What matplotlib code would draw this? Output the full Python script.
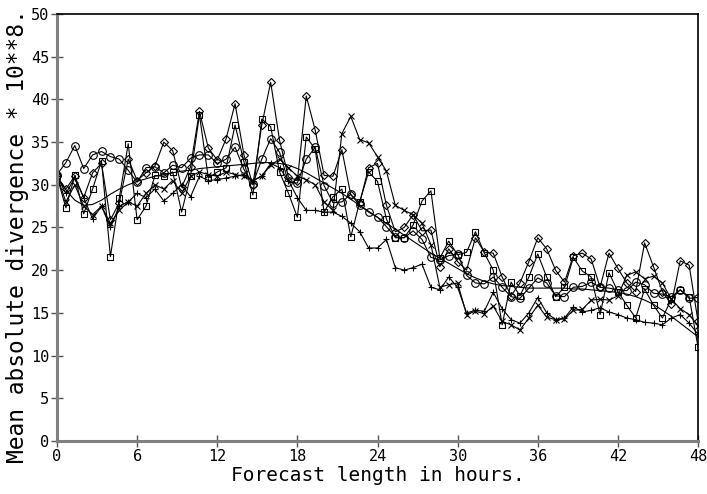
import numpy as np
import matplotlib
matplotlib.use("Agg")
import matplotlib.pyplot as plt

# forecast hours, one value every 40 minutes
hours = np.arange(73) * 2.0 / 3.0

circles = [31.2, 32.6, 34.6, 31.9, 33.5, 33.9, 33.3, 33.0, 31.7,
           30.3, 32.0, 32.1, 31.4, 32.3, 32.0, 33.1, 33.5, 33.5,
           32.5, 33.0, 34.4, 31.8, 30.1, 33.0, 35.4, 33.8, 30.3,
           30.2, 33.0, 34.4, 29.9, 27.9, 28.0, 28.9, 27.6, 26.8,
           26.2, 25.1, 23.9, 23.8, 24.6, 23.6, 21.5, 21.2, 21.7,
           21.9, 19.4, 18.5, 18.4, 19.2, 18.0, 16.9, 16.7, 17.9,
           19.1, 18.5, 17.0, 16.9, 18.0, 18.1, 18.6, 18.0, 17.9,
           17.7, 17.6, 18.6, 18.3, 17.3, 17.2, 16.9, 17.7, 16.7,
           16.8]

squares = [31.0, 27.3, 31.1, 26.6, 29.5, 32.8, 21.6, 28.5, 34.8,
           25.9, 27.5, 31.1, 31.0, 31.5, 26.8, 31.0, 38.2, 30.8,
           31.5, 32.0, 37.0, 32.7, 28.8, 37.7, 36.8, 31.5, 29.0,
           26.2, 35.6, 34.2, 26.8, 28.6, 29.5, 23.9, 28.0, 31.5,
           30.4, 26.0, 23.8, 23.8, 25.3, 28.1, 29.3, 21.4, 23.4,
           21.8, 22.1, 24.5, 22.0, 20.0, 13.6, 18.6, 17.0, 19.2,
           21.9, 19.2, 16.9, 18.0, 21.5, 19.9, 19.2, 14.8, 19.7,
           17.5, 15.9, 14.4, 17.8, 15.9, 14.4, 16.6, 17.7, 16.9,
           11.0]

diamonds = [31.0, 29.5, 31.0, 28.5, 31.4, 32.5, 25.9, 27.9, 33.0,
            30.5, 31.4, 32.2, 35.0, 34.0, 29.7, 32.1, 38.6, 34.3,
            32.9, 35.4, 39.5, 33.5, 30.0, 37.0, 42.0, 35.2, 30.9,
            30.5, 40.4, 36.4, 31.1, 31.0, 34.1, 28.8, 27.9, 32.0,
            32.5, 27.6, 24.5, 25.0, 26.5, 24.6, 24.7, 20.4, 22.5,
            21.0, 20.0, 23.8, 22.1, 22.0, 19.2, 17.0, 18.5, 21.0,
            23.8, 22.5, 20.0, 18.6, 21.7, 22.0, 21.3, 18.0, 22.0,
            20.2, 18.5, 17.5, 23.2, 20.4, 17.5, 16.0, 21.1, 20.6,
            14.0]

crosses = [31.0, 28.0, 30.0, 27.5, 26.5, 27.5, 25.5, 27.0, 28.0,
           27.5, 29.0, 30.0, 29.5, 30.5, 29.0, 31.0, 31.5, 31.2,
           31.0, 31.5, 31.2, 31.0, 30.5, 31.0, 32.3, 33.0, 32.0,
           31.0, 30.6, 30.0, 28.0, 27.0, 36.0, 38.0, 35.3, 34.9,
           33.3, 31.6, 27.6, 27.0, 26.5, 25.5, 23.0, 18.0, 18.3,
           18.5, 14.8, 15.2, 14.9, 15.8, 14.0, 13.6, 13.0, 14.4,
           15.9, 14.5, 14.2, 14.3, 15.3, 15.4, 16.5, 16.6, 16.5,
           17.0, 19.4, 19.8, 19.0, 19.3, 18.5, 16.6, 15.5, 14.8,
           13.5]

pluses = [31.0, 29.0, 30.8, 28.5, 26.0, 27.5, 25.0, 27.5, 28.0,
          29.0, 28.5, 29.5, 28.1, 29.0, 30.0, 28.6, 31.0, 30.5,
          30.6, 30.8, 31.0, 31.2, 30.5, 31.0, 32.5, 32.0, 30.5,
          28.5, 27.0, 27.0, 26.8, 26.8, 26.3, 25.5, 24.5, 22.6,
          22.6, 23.6, 20.3, 20.0, 20.3, 20.7, 18.0, 17.7, 19.2,
          18.0, 15.0, 15.3, 15.2, 17.4, 15.5, 14.2, 13.8, 15.0,
          16.8, 15.0, 14.2, 14.4, 15.7, 15.1, 15.3, 15.6, 15.1,
          14.8, 14.4, 14.2, 13.9, 13.8, 13.6, 14.4, 14.8, 13.8,
          12.5]

smooth = [31.0, 29.4, 28.2, 27.6, 27.7, 28.2, 28.9, 29.5, 30.0,
          30.4, 30.7, 31.0, 31.2, 31.4, 31.6, 31.7, 31.9, 32.0,
          32.1, 32.2, 32.3, 32.4, 32.5, 32.6, 32.6, 32.5, 32.3,
          31.9, 31.4, 30.8, 30.2, 29.6, 29.0, 28.3, 27.6, 26.9,
          26.2, 25.5, 24.8, 24.1, 23.4, 22.7, 22.0, 21.4, 20.8,
          20.2, 19.6, 19.1, 18.7, 18.4, 18.2, 18.1, 18.0, 17.9,
          17.9, 17.9, 17.9, 17.9, 17.8, 17.8, 17.7, 17.6, 17.5,
          17.4, 17.2, 16.9, 16.5, 16.0, 15.3, 14.6, 13.8, 13.0,
          12.2]

xticks = [0, 6, 12, 18, 24, 30, 36, 42, 48]
yticks = [0, 5, 10, 15, 20, 25, 30, 35, 40, 45, 50]

plt.rcParams['font.family'] = 'DejaVu Sans Mono'

fig = plt.figure(figsize=(7.07, 4.94), dpi=100)
ax = fig.add_axes([0.0806, 0.1073, 0.9067, 0.8644])

lw = 0.8
ax.plot(hours, smooth, color='black', lw=lw)
ax.plot(hours, pluses, color='black', lw=lw, marker='+', ms=5, mew=0.8)
ax.plot(hours, crosses, color='black', lw=lw, marker='x', ms=4, mew=0.8)
ax.plot(hours, circles, color='black', lw=lw, marker='o', ms=5.5,
        mfc='none', mew=0.8)
ax.plot(hours, squares, color='black', lw=lw, marker='s', ms=4.5,
        mfc='none', mew=0.8)
ax.plot(hours, diamonds, color='black', lw=lw, marker='D', ms=4.5,
        mfc='none', mew=0.8)

ax.set_xlim(0, 48)
ax.set_ylim(0, 50)
ax.set_xticks(xticks)
ax.set_yticks(yticks)
ax.tick_params(direction='inout', length=9, width=1.0, labelsize=11,
               color='#555555', pad=1)

for side in ['left', 'bottom']:
    ax.spines[side].set_color('#808080')
    ax.spines[side].set_linewidth(2.2)
for side in ['top', 'right']:
    ax.spines[side].set_color('black')
    ax.spines[side].set_linewidth(1.2)

ax.set_xlabel('Forecast length in hours.', fontsize=14, labelpad=2)
ax.set_ylabel('Mean absolute divergence * 10**8.', fontsize=16.5)
ax.yaxis.set_label_coords(-0.043, 0.48)

fig.savefig('out.png', dpi=100)
